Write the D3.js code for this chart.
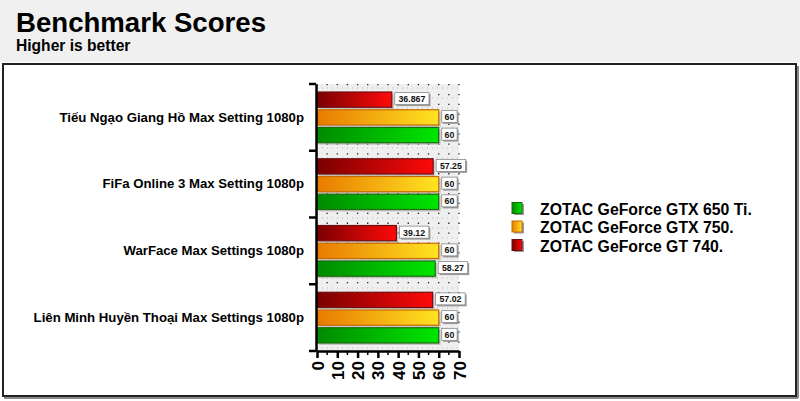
<!DOCTYPE html>
<html><head><meta charset="utf-8">
<script src="https://cdn.jsdelivr.net/npm/d3@7"></script>
<style>body{margin:0;background:#fff}svg{display:block;font-family:"Liberation Sans",Arial,sans-serif}</style>
</head><body><svg id="c" width="800" height="401"></svg>
<script>
const categories = ["Tiếu Ngạo Giang Hồ Max Setting 1080p","FiFa Online 3 Max Setting 1080p","WarFace Max Settings 1080p","Liên Minh Huyền Thoại Max Settings 1080p"];
const seriesNames = ["ZOTAC GeForce GTX 650 Ti.","ZOTAC GeForce GTX 750.","ZOTAC GeForce GT 740."];
const gtx650ti = [60,60,58.27,60];
const gtx750 = [60,60,60,60];
const gt740 = [36.867,57.25,39.12,57.02];
const valueLabels650 = ["60","60","58.27","60"];
const valueLabels750 = ["60","60","60","60"];
const valueLabels740 = ["36.867","57.25","39.12","57.02"];
const xTicks = [0,10,20,30,40,50,60,70];

const svg = d3.select("#c");
const defs = svg.append("defs");
const grads = [
  {id:"g650", a:"#008a00", b:"#00e600", stroke:"#1f6a10"},
  {id:"g750", a:"#e87a00", b:"#ffe422", stroke:"#c86a00"},
  {id:"g740", a:"#7a0000", b:"#ff0a0a", stroke:"#701010"}
];
grads.forEach(g=>{
  const lg = defs.append("linearGradient").attr("id",g.id).attr("x1","0").attr("x2","1").attr("y1","0").attr("y2","0");
  lg.append("stop").attr("offset","0").attr("stop-color",g.a);
  lg.append("stop").attr("offset","1").attr("stop-color",g.b);
});

// header
svg.append("rect").attr("x",0).attr("y",0).attr("width",800).attr("height",62).attr("fill","#f0f0f0");
svg.append("text").attr("x",16).attr("y",32).attr("font-size",27.6).attr("font-weight","bold").attr("fill","#000").text("Benchmark Scores");
svg.append("text").attr("x",16).attr("y",51).attr("font-size",15.6).attr("font-weight","bold").attr("fill","#000").text("Higher is better");
// frame
svg.append("rect").attr("x",3).attr("y",64).attr("width",793).attr("height",332).attr("fill","#fff").attr("stroke","#222").attr("stroke-width",2);
svg.append("line").attr("x1",4).attr("x2",798).attr("y1",398).attr("y2",398).attr("stroke","#888").attr("stroke-width",2);
svg.append("line").attr("x1",798).attr("x2",798).attr("y1",66).attr("y2",398).attr("stroke","#888").attr("stroke-width",2);

const L=317, R=459, T=84, B=351;
const x = d3.scaleLinear().domain([0,70]).range([L,R]);
const y = d3.scaleBand().domain(categories).range([T,B]);
const inner = d3.scaleBand().domain(["gt740","gtx750","gtx650ti"]).range([8,y.bandwidth()-8]).paddingInner(0.14);

// plot bg
svg.append("rect").attr("x",L).attr("y",T).attr("width",R-L).attr("height",B-T).attr("fill","#efefef");
// dotted grid
const vgrid = d3.range(0,71,5);
svg.append("g").selectAll("line").data(vgrid).join("line")
  .attr("x1",d=>x(d)).attr("x2",d=>x(d)).attr("y1",T).attr("y2",B)
  .attr("stroke","#222").attr("stroke-width",1.3).attr("stroke-dasharray","1.3,8.6");
const hgrid = d3.range(T+4, B, 10);
svg.append("g").selectAll("line").data(hgrid).join("line")
  .attr("x1",L).attr("x2",R).attr("y1",d=>d).attr("y2",d=>d)
  .attr("stroke","#aaa").attr("stroke-width",0.8).attr("stroke-dasharray","1,4");

// bars
const series = [
  {key:"gt740", vals:gt740, labels:valueLabels740, g:grads[2]},
  {key:"gtx750", vals:gtx750, labels:valueLabels750, g:grads[1]},
  {key:"gtx650ti", vals:gtx650ti, labels:valueLabels650, g:grads[0]}
];
const barsG = svg.append("g");
series.forEach(s=>{
  categories.forEach((c,i)=>{
    const by = y(c)+inner(s.key), bh = inner.bandwidth();
    const bw = x(s.vals[i])-x(0);
    barsG.append("rect").attr("x",x(0)+2).attr("y",by+2).attr("width",bw).attr("height",bh).attr("fill","#aaa").attr("opacity",0.6);
    barsG.append("rect").attr("x",x(0)).attr("y",by).attr("width",bw).attr("height",bh)
      .attr("fill",`url(#${s.g.id})`).attr("stroke",s.g.stroke).attr("stroke-width",1.2);
    const txt = s.labels[i];
    const tw = txt.length*4.7+6;
    const lx = x(s.vals[i])+3;
    const cy = by+bh/2;
    barsG.append("rect").attr("x",lx+1.5).attr("y",cy-5.5).attr("width",tw).attr("height",12).attr("fill","#999");
    barsG.append("rect").attr("x",lx).attr("y",cy-7).attr("width",tw).attr("height",12).attr("fill","#fff").attr("stroke","#888").attr("stroke-width",0.8);
    barsG.append("text").attr("x",lx+tw/2).attr("y",cy+2.5).attr("text-anchor","middle").attr("font-size",8.8).attr("font-weight","bold").attr("fill","#111").text(txt);
  });
});

// axes
const xa = d3.axisBottom(x).tickValues(xTicks).tickSize(7).tickSizeOuter(0);
const gx = svg.append("g").attr("transform",`translate(0,${B})`).call(xa);
gx.select(".domain").attr("stroke","#000").attr("stroke-width",2.5);
gx.selectAll(".tick line").attr("stroke","#000").attr("stroke-width",2.5);
gx.selectAll(".tick text").attr("transform","rotate(-90)").attr("text-anchor","end").attr("dy","0.36em").attr("x",-10).attr("y",0)
  .attr("font-size",17).attr("font-weight","bold").attr("fill","#000").attr("font-family","'Liberation Sans',Arial,sans-serif");
svg.append("g").selectAll("line").data(d3.range(5,70,10)).join("line")
  .attr("x1",d=>x(d)).attr("x2",d=>x(d)).attr("y1",B).attr("y2",B+4).attr("stroke","#000").attr("stroke-width",1.5);

const ya = d3.axisLeft(y).tickSize(0).tickSizeOuter(0).tickPadding(12);
const gy = svg.append("g").attr("transform",`translate(${L-1},0)`).call(ya);
gy.select(".domain").attr("stroke","#000").attr("stroke-width",2.5);
gy.selectAll(".tick text").attr("font-size",13.2).attr("font-weight","bold").attr("fill","#000").attr("font-family","'Liberation Sans',Arial,sans-serif");
const bounds = categories.map(c=>y(c)).concat([B]);
svg.append("g").selectAll("line").data(bounds).join("line")
  .attr("x1",L-8).attr("x2",L-1).attr("y1",d=>d).attr("y2",d=>d).attr("stroke","#000").attr("stroke-width",2.5);

// legend
const leg = svg.append("g");
seriesNames.forEach((n,i)=>{
  const ly = 209 + i*18.5;
  leg.append("rect").attr("x",514).attr("y",ly-5).attr("width",10).attr("height",11).attr("fill","#999");
  leg.append("rect").attr("x",512).attr("y",ly-6.5).attr("width",10).attr("height",11).attr("fill",`url(#${grads[i].id})`).attr("stroke",grads[i].stroke).attr("stroke-width",1);
  leg.append("text").attr("x",540).attr("y",ly+5.5).attr("font-size",15.8).attr("font-weight","bold").attr("fill","#000").text(n);
});
</script></body></html>
